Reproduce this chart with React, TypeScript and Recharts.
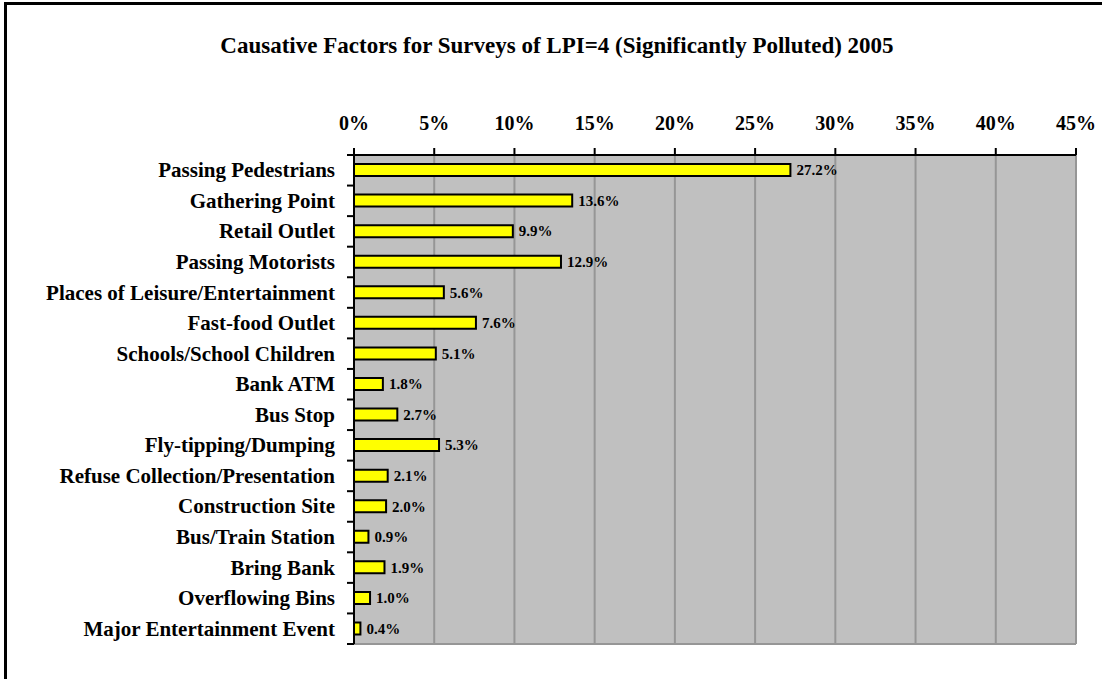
import React from 'react'
import { BarChart, Bar, XAxis, YAxis, CartesianGrid, LabelList } from 'recharts'

const categories = [
  'Passing Pedestrians',
  'Gathering Point',
  'Retail Outlet',
  'Passing Motorists',
  'Places of Leisure/Entertainment',
  'Fast-food Outlet',
  'Schools/School Children',
  'Bank ATM',
  'Bus Stop',
  'Fly-tipping/Dumping',
  'Refuse Collection/Presentation',
  'Construction  Site',
  'Bus/Train Station',
  'Bring Bank',
  'Overflowing Bins',
  'Major Entertainment Event',
]
const percents = [27.2, 13.6, 9.9, 12.9, 5.6, 7.6, 5.1, 1.8, 2.7, 5.3, 2.1, 2.0, 0.9, 1.9, 1.0, 0.4]
const xTicks = [0, 5, 10, 15, 20, 25, 30, 35, 40, 45]

const data = categories.map((name, i) => ({ name, value: percents[i] }))

const FONT = '"Liberation Serif", "Times New Roman", serif'
const W = 1102
const H = 679
const M = { top: 125, right: 26, bottom: 35, left: 0 }
const X_AXIS_H = 30
const BAND = (H - M.top - M.bottom - X_AXIS_H) / categories.length

// category label plus the Excel-style tick marks between categories
function CategoryTick(props: any) {
  const { x, y, payload, index } = props
  return (
    <g>
      {index === 0 && <line x1={x - 7} x2={x} y1={y - BAND / 2} y2={y - BAND / 2} stroke="#000" strokeWidth={2} />}
      <line x1={x - 7} x2={x} y1={y + BAND / 2} y2={y + BAND / 2} stroke="#000" strokeWidth={2} />
      <text x={x - 19} y={y} dy={7} textAnchor="end" fontFamily={FONT} fontWeight="bold" fontSize={21} fill="#000">
        {payload.value}
      </text>
    </g>
  )
}

export default function App() {
  return (
    <div style={{ position: 'absolute', left: 0, top: 0, width: W, height: H, background: '#fff', overflow: 'hidden' }}>
      <div
        style={{
          position: 'absolute',
          left: 4,
          top: 2,
          width: W,
          height: H,
          borderLeft: '3px solid #000',
          borderTop: '3px solid #000',
          boxSizing: 'border-box',
        }}
      />
      <div
        style={{
          position: 'absolute',
          left: 0,
          width: 1114,
          top: 33,
          textAlign: 'center',
          fontFamily: FONT,
          fontWeight: 'bold',
          fontSize: 23,
          whiteSpace: 'nowrap',
        }}
      >
        Causative Factors for Surveys of LPI=4 (Significantly Polluted) 2005
      </div>
      <BarChart width={W} height={H} data={data} layout="vertical" margin={M} barCategoryGap="54%">
        <CartesianGrid
          fill="#C0C0C0"
          stroke="#969696"
          strokeWidth={2}
          horizontalCoordinatesGenerator={({ offset }: any) => [offset.top + offset.height]}
        />
        <XAxis
          type="number"
          orientation="top"
          domain={[0, 45]}
          ticks={xTicks}
          height={X_AXIS_H}
          interval={0}
          tickFormatter={(v: number) => `${v}%`}
          tick={{ fontFamily: FONT, fontWeight: 'bold', fontSize: 20, fill: '#000' }}
          tickSize={7}
          tickMargin={18}
          axisLine={{ stroke: '#000', strokeWidth: 2 }}
          tickLine={{ stroke: '#000', strokeWidth: 2 }}
        />
        <YAxis
          type="category"
          dataKey="name"
          width={354}
          interval={0}
          tick={<CategoryTick />}
          tickLine={false}
          tickSize={0}
          tickMargin={0}
          axisLine={{ stroke: '#000', strokeWidth: 2 }}
        />
        <Bar dataKey="value" fill="#FFFF00" stroke="#000" strokeWidth={2} barSize={12} isAnimationActive={false}>
          <LabelList
            dataKey="value"
            position="right"
            offset={6}
            formatter={(v: any) => `${Number(v).toFixed(1)}%`}
            style={{ fontFamily: FONT, fontWeight: 'bold', fontSize: 15, fill: '#000' }}
          />
        </Bar>
      </BarChart>
    </div>
  )
}
